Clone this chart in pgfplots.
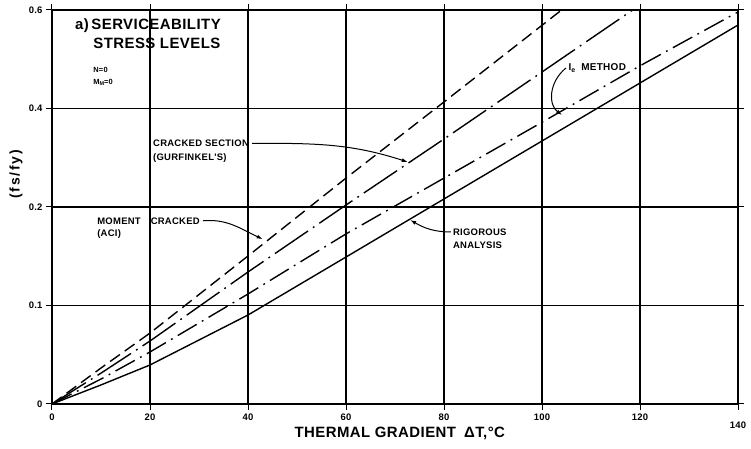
\documentclass[border=0pt]{standalone}
\usepackage{fontspec}
\setmainfont{Liberation Sans}
\newfontfamily\lettering[LetterSpace=3]{Liberation Sans}
\newfontfamily\wideletter[LetterSpace=12]{Liberation Sans}
\usepackage{pgfplots}
\pgfplotsset{compat=1.18}
\usetikzlibrary{arrows.meta}
\begin{document}
\begin{tikzpicture}
\begin{axis}[
  scale only axis, width=686bp, height=394bp,
  xmin=0, xmax=140, ymin=0, ymax=0.6,
  clip mode=individual,
  xtick={0,20,40,60,80,100,120},
  extra x ticks={140},
  extra x tick style={grid=none, xticklabel style={yshift=-8bp}},
  ytick={0,0.15,0.3,0.45,0.6}, yticklabels={0,0.1,0.2,0.4,0.6},
  grid=major, major grid style={black, line width=1.1bp},
  axis line style={black, line width=1.5bp},
  tick align=outside, major tick length=6bp, tick style={black, line width=1bp},
  ticklabel style={font=\lettering\bfseries\fontsize{9.5}{10}\selectfont},
  /pgf/number format/assume math mode=true,
]
% Rigorous analysis
\addplot[black, line width=1.4bp] coordinates {(0,0)(10,0.029)(20,0.0594)(40,0.1355)(60,0.2238)(80,0.3122)(100,0.4005)(120,0.4888)(140,0.5771)};
% Moment cracked (ACI)
\addplot[black, line width=1.4bp, dash pattern=on 12bp off 6bp] coordinates {(0,0)(10,0.0548)(20,0.108)(40,0.2254)(60,0.344)(80,0.460)(104,0.600)};
% Cracked section (Gurfinkel's)
\addplot[black, line width=1.4bp, dash pattern=on 40bp off 6bp on 1.8bp off 6bp] coordinates {(0,0)(10,0.047)(20,0.0959)(40,0.201)(60,0.303)(80,0.4035)(118.5,0.600)};
% Ie method
\addplot[black, line width=1.4bp, dash pattern=on 22bp off 6bp on 1.8bp off 6bp] coordinates {(0,0)(10,0.038)(20,0.0792)(40,0.1675)(60,0.259)(80,0.344)(100,0.429)(120,0.515)(140,0.597)};

% titles
\node[anchor=west, inner sep=0pt, font=\lettering\bfseries\fontsize{15}{16}\selectfont] at (axis cs:4.7,0.576) {a)\,SERVICEABILITY};
\node[anchor=west, inner sep=0pt, font=\lettering\bfseries\fontsize{15}{16}\selectfont] at (axis cs:8.4,0.549) {STRESS LEVELS};
\node[anchor=west, inner sep=0pt, font=\lettering\bfseries\fontsize{7.5}{8}\selectfont] at (axis cs:8.4,0.509) {N=0};
\node[anchor=west, inner sep=0pt, font=\lettering\bfseries\fontsize{7.5}{8}\selectfont] at (axis cs:8.4,0.490) {M\raisebox{-1.5bp}{\fontsize{5.5}{6}\selectfont M}=0};

% annotations
\node[anchor=west, inner sep=0pt, font=\lettering\bfseries\fontsize{9.5}{10}\selectfont] (cs) at (axis cs:20.6,0.397) {CRACKED SECTION};
\node[anchor=west, inner sep=0pt, font=\lettering\bfseries\fontsize{9.5}{10}\selectfont] at (axis cs:20.6,0.375) {(GURFINKEL'S)};
\draw[black, line width=1bp, -{Latex[length=6bp,width=4bp]}] ([xshift=3bp]cs.east) to[out=0, in=162] (axis cs:72.6,0.3685);

\node[anchor=west, inner sep=0pt, font=\lettering\bfseries\fontsize{9.5}{10}\selectfont] (mc) at (axis cs:9.2,0.279) {MOMENT\hspace{10bp}CRACKED};
\node[anchor=west, inner sep=0pt, font=\lettering\bfseries\fontsize{9.5}{10}\selectfont] at (axis cs:9.2,0.259) {(ACI)};
\draw[black, line width=1bp, -{Latex[length=6bp,width=4bp]}] ([xshift=3bp]mc.east) to[out=5, in=155] (axis cs:43.0,0.2510);

\node[anchor=west, inner sep=0pt, font=\lettering\bfseries\fontsize{9.5}{10}\selectfont] (ra) at (axis cs:81.8,0.262) {RIGOROUS};
\node[anchor=west, inner sep=0pt, font=\lettering\bfseries\fontsize{9.5}{10}\selectfont] at (axis cs:81.8,0.242) {ANALYSIS};
\draw[black, line width=1bp, -{Latex[length=6bp,width=4bp]}] ([xshift=-2bp]ra.west) to[out=180, in=-30] (axis cs:73.1,0.2802);

\node[anchor=west, inner sep=0pt, font=\lettering\bfseries\fontsize{10}{10}\selectfont] at (axis cs:105.4,0.512) {I\raisebox{-2bp}{\fontsize{7}{7}\selectfont e}\hspace{6bp}METHOD};
\draw[black, line width=1bp, -{Latex[length=6bp,width=4bp]}] (axis cs:104.9,0.5117) .. controls (axis cs:101.3,0.49) and (axis cs:101.3,0.455) .. (axis cs:104.1,0.4401);

% axis labels
\node[font=\lettering\bfseries\fontsize{15}{16}\selectfont, inner sep=0pt] at (axis description cs:0.507,-0.076) {THERMAL GRADIENT\hspace{8bp}ΔT,°C};
\node[font=\wideletter\bfseries\fontsize{14}{15}\selectfont, inner sep=0pt, rotate=90] at (axis description cs:-0.0525,0.583) {(fs/\,fy)};
\end{axis}
\pgfresetboundingbox
\path ([shift={(-52bp,-45bp)}]current axis.south west) rectangle ([shift={(13bp,10bp)}]current axis.north east);
\end{tikzpicture}
\end{document}
